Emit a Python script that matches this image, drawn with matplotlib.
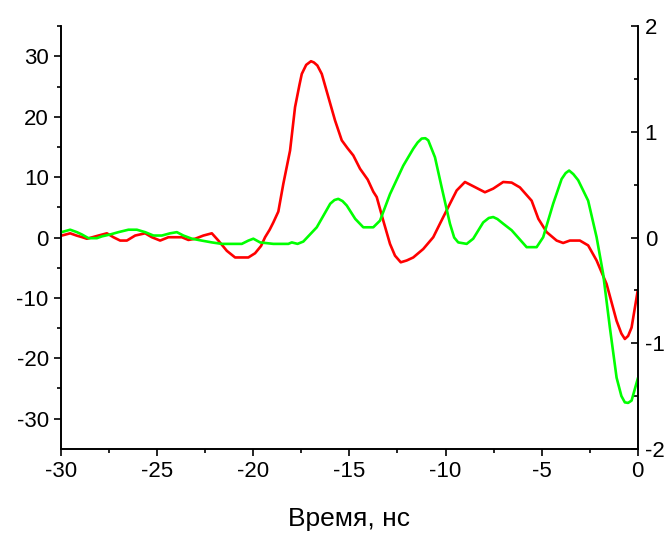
import numpy as np
import matplotlib
matplotlib.use("Agg")
import matplotlib.pyplot as plt

plt.rcParams['font.family'] = ['Liberation Sans', 'DejaVu Sans']
plt.rcParams['axes.unicode_minus'] = False

# red trace (left axis), time in ns
t_red = [-30.0, -29.53, -29.2, -28.9, -28.66, -28.06, -27.62, -27.28, -26.93, -26.58,
         -26.15, -25.63, -25.28, -24.85, -24.42, -24.07, -23.72, -23.38, -23.03, -22.6,
         -22.16, -21.82, -21.38, -20.95, -20.26, -19.91, -19.6, -19.39, -19.15, -18.96,
         -18.7, -18.44, -18.09, -17.83, -17.6, -17.48, -17.25, -17.0, -16.85, -16.67,
         -16.44, -16.1, -15.75, -15.4, -15.1, -14.8, -14.45, -14.05, -13.76, -13.58,
         -13.24, -12.89, -12.63, -12.33, -12.02, -11.68, -11.16, -10.64, -10.29, -9.77,
         -9.42, -8.99, -8.56, -7.95, -7.52, -7.0, -6.56, -6.13, -5.52, -5.17,
         -4.74, -4.22, -3.88, -3.53, -3.01, -2.58, -2.14, -1.62, -1.1, -0.85,
         -0.67, -0.5, -0.32, 0.0]
red = [0.3, 0.7, 0.33, 0.05, -0.2, 0.33, 0.7, 0.05, -0.5, -0.5,
       0.33, 0.7, 0.05, -0.5, 0.05, 0.05, 0.05, -0.4, -0.2, 0.33,
       0.7, -0.5, -2.2, -3.3, -3.3, -2.6, -1.4, 0.05, 1.3, 2.5,
       4.3, 8.9, 14.4, 21.6, 25.3, 27.1, 28.6, 29.2, 29.0, 28.5,
       27.1, 23.3, 19.4, 16.1, 14.8, 13.6, 11.4, 9.6, 7.6, 6.7,
       2.8, -1.05, -3.0, -4.1, -3.8, -3.3, -1.9, 0.05, 2.3, 5.6,
       7.8, 9.2, 8.5, 7.5, 8.1, 9.2, 9.1, 8.3, 6.1, 3.1,
       0.9, -0.5, -0.9, -0.5, -0.5, -1.3, -3.8, -7.7, -13.8, -15.9,
       -16.8, -16.3, -14.9, -8.8]

# green trace (right axis)
t_green = [-30.0, -29.53, -29.18, -28.92, -28.58, -28.14, -27.88, -27.45, -27.02, -26.5,
           -26.06, -25.63, -25.2, -24.76, -24.33, -23.98, -23.64, -23.2, -22.68, -22.16,
           -21.64, -21.12, -20.6, -20.26, -20.0, -19.65, -18.96, -18.18, -18.0, -17.7,
           -17.4, -16.7, -16.0, -15.78, -15.58, -15.36, -15.14, -14.7, -14.28, -13.76,
           -13.41, -12.89, -12.2, -11.68, -11.45, -11.24, -11.05, -10.9, -10.55, -10.2,
           -9.77, -9.55, -9.34, -8.9, -8.56, -8.04, -7.75, -7.52, -7.3, -7.0,
           -6.56, -5.78, -5.26, -4.92, -4.4, -3.96, -3.75, -3.57, -3.35, -3.1,
           -2.58, -2.14, -1.8, -1.45, -1.1, -0.85, -0.67, -0.5, -0.32, 0.0]
green = [0.05, 0.074, 0.051, 0.029, -0.006, -0.006, 0.011, 0.029, 0.051, 0.074,
         0.074, 0.051, 0.019, 0.019, 0.04, 0.051, 0.019, -0.011, -0.029, -0.046,
         -0.06, -0.06, -0.06, -0.029, -0.011, -0.046, -0.06, -0.06, -0.046, -0.06,
         -0.038, 0.097, 0.32, 0.355, 0.366, 0.345, 0.303, 0.177, 0.097, 0.097,
         0.16, 0.411, 0.68, 0.84, 0.9, 0.937, 0.94, 0.92, 0.76, 0.474,
         0.131, 0.0, -0.046, -0.06, -0.011, 0.143, 0.185, 0.194, 0.175, 0.131,
         0.069, -0.091, -0.091, 0.003, 0.32, 0.554, 0.61, 0.634, 0.6, 0.543,
         0.349, 0.003, -0.343, -0.851, -1.326, -1.5, -1.56, -1.565, -1.543, -1.337]

fig = plt.figure(figsize=(6.72, 5.35), dpi=100)
ax = fig.add_axes([0.091, 0.161, 0.858, 0.79])
ax2 = ax.twinx()

ax.plot(t_red, red, color='#ff0000', lw=1.9, solid_joinstyle='round')
ax2.plot(t_green, green, color='#00ff00', lw=1.9, solid_joinstyle='round')

ax.set_xlim(-30, 0)
ax.set_ylim(-35, 35)
ax2.set_ylim(-2, 2)

ax.set_xticks(np.arange(-30, 1, 5))
ax.set_xticks(np.arange(-27.5, 0, 5), minor=True)
ax.set_yticks(np.arange(-30, 31, 10))
ax.set_yticks(np.arange(-25, 36, 10), minor=True)
ax2.set_yticks([-2, -1, 0, 1, 2])
ax2.set_yticks([-1.5, -0.5, 0.5, 1.5], minor=True)

for a in (ax, ax2):
    a.spines['top'].set_visible(False)
    for s in a.spines.values():
        s.set_linewidth(1.2)

ax.tick_params(axis='both', which='major', direction='out', length=5, width=1.2,
               labelsize=16, pad=4)
ax.tick_params(axis='both', which='minor', direction='out', length=3, width=1.2)
ax2.tick_params(axis='y', which='major', direction='in', length=5, width=1.2,
                labelsize=16, pad=5)
ax2.tick_params(axis='y', which='minor', direction='in', length=3, width=1.2)

ax.set_xlabel('Время, нс', fontsize=19, labelpad=18)

fig.savefig('out.png', dpi=100)
